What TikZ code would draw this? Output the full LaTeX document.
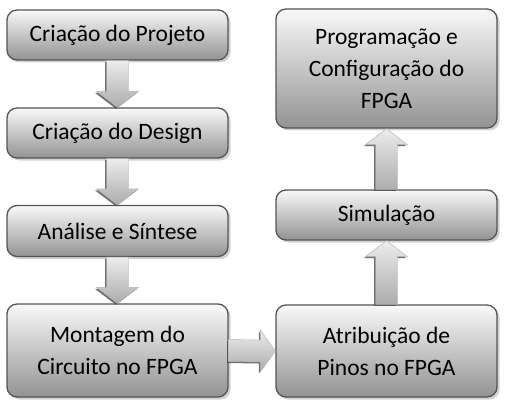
\documentclass[tikz,border=0pt]{standalone}
\usepackage{fontspec}
\setmainfont{Carlito}
\usetikzlibrary{shadows}

\begin{document}
\begin{tikzpicture}[x = 1pt, y = -1pt, font=\fontsize{23.5}{32}\selectfont]
\tikzstyle{etapaStyle}=[rectangle, rounded corners = 10pt, draw = black!67, line width = 1.3pt,
  top color = gray!5, bottom color = gray!85, text = black, align = center,
  minimum width = 221pt, inner sep = 2pt,
  drop shadow = {shadow xshift = 2.5pt, shadow yshift = -2.5pt, fill = gray!60, opacity = 0.6}]
\tikzstyle{setaStyle}=[top color = gray!15, bottom color = gray!65, draw = gray!60, line width = 0.4pt,
  drop shadow = {shadow xshift = -1.5pt, shadow yshift = -1.5pt, fill = black!70, opacity = 0.8}]
\useasboundingbox (0,0) rectangle (511,409);
\node[etapaStyle, minimum height = 50pt] (projeto) at (117.5, 35) {Criação do Projeto};
\node[etapaStyle, minimum height = 50pt] (design) at (117.5, 133) {Criação do Design};
\node[etapaStyle, minimum height = 51pt] (sintese) at (117.5, 231) {Análise e Síntese};
\node[etapaStyle, minimum height = 93pt] (montagem) at (117.5, 350.5) {Montagem do\\Circuito no FPGA};
\node[etapaStyle, minimum height = 92pt] (pinos) at (386.5, 351) {Atribuição de\\Pinos no FPGA};
\node[etapaStyle, minimum height = 50pt] (simulacao) at (386.5, 215) {Simulação};
\node[etapaStyle, minimum height = 119pt] (programacao) at (386.5, 68.5) {Programação e\\Configuração do\\FPGA};
% setas para baixo
\path[setaStyle] ([xshift=-11pt]projeto.south) -- ([xshift=-11pt,yshift=16pt]design.north)
  -- ([xshift=-21pt,yshift=16pt]design.north) -- (design.north) -- ([xshift=21pt,yshift=16pt]design.north)
  -- ([xshift=11pt,yshift=16pt]design.north) -- ([xshift=11pt]projeto.south) -- cycle;
\path[setaStyle] ([xshift=-11pt]design.south) -- ([xshift=-11pt,yshift=16pt]sintese.north)
  -- ([xshift=-21pt,yshift=16pt]sintese.north) -- (sintese.north) -- ([xshift=21pt,yshift=16pt]sintese.north)
  -- ([xshift=11pt,yshift=16pt]sintese.north) -- ([xshift=11pt]design.south) -- cycle;
\path[setaStyle] ([xshift=-11pt]sintese.south) -- ([xshift=-11pt,yshift=16pt]montagem.north)
  -- ([xshift=-21pt,yshift=16pt]montagem.north) -- (montagem.north) -- ([xshift=21pt,yshift=16pt]montagem.north)
  -- ([xshift=11pt,yshift=16pt]montagem.north) -- ([xshift=11pt]sintese.south) -- cycle;
% seta para a direita
\path[setaStyle] ([yshift=11pt]montagem.east) -- ([xshift=-15pt,yshift=11pt]pinos.west)
  -- ([xshift=-15pt,yshift=21pt]pinos.west) -- (pinos.west) -- ([xshift=-15pt,yshift=-21pt]pinos.west)
  -- ([xshift=-15pt,yshift=-11pt]pinos.west) -- ([yshift=-11pt]montagem.east) -- cycle;
% setas para cima
\path[setaStyle] ([xshift=-11pt]pinos.north) -- ([xshift=-11pt,yshift=-16pt]simulacao.south)
  -- ([xshift=-21pt,yshift=-16pt]simulacao.south) -- (simulacao.south) -- ([xshift=21pt,yshift=-16pt]simulacao.south)
  -- ([xshift=11pt,yshift=-16pt]simulacao.south) -- ([xshift=11pt]pinos.north) -- cycle;
\path[setaStyle] ([xshift=-11pt]simulacao.north) -- ([xshift=-11pt,yshift=-16pt]programacao.south)
  -- ([xshift=-21pt,yshift=-16pt]programacao.south) -- (programacao.south) -- ([xshift=21pt,yshift=-16pt]programacao.south)
  -- ([xshift=11pt,yshift=-16pt]programacao.south) -- ([xshift=11pt]simulacao.north) -- cycle;
\end{tikzpicture}
\end{document}
